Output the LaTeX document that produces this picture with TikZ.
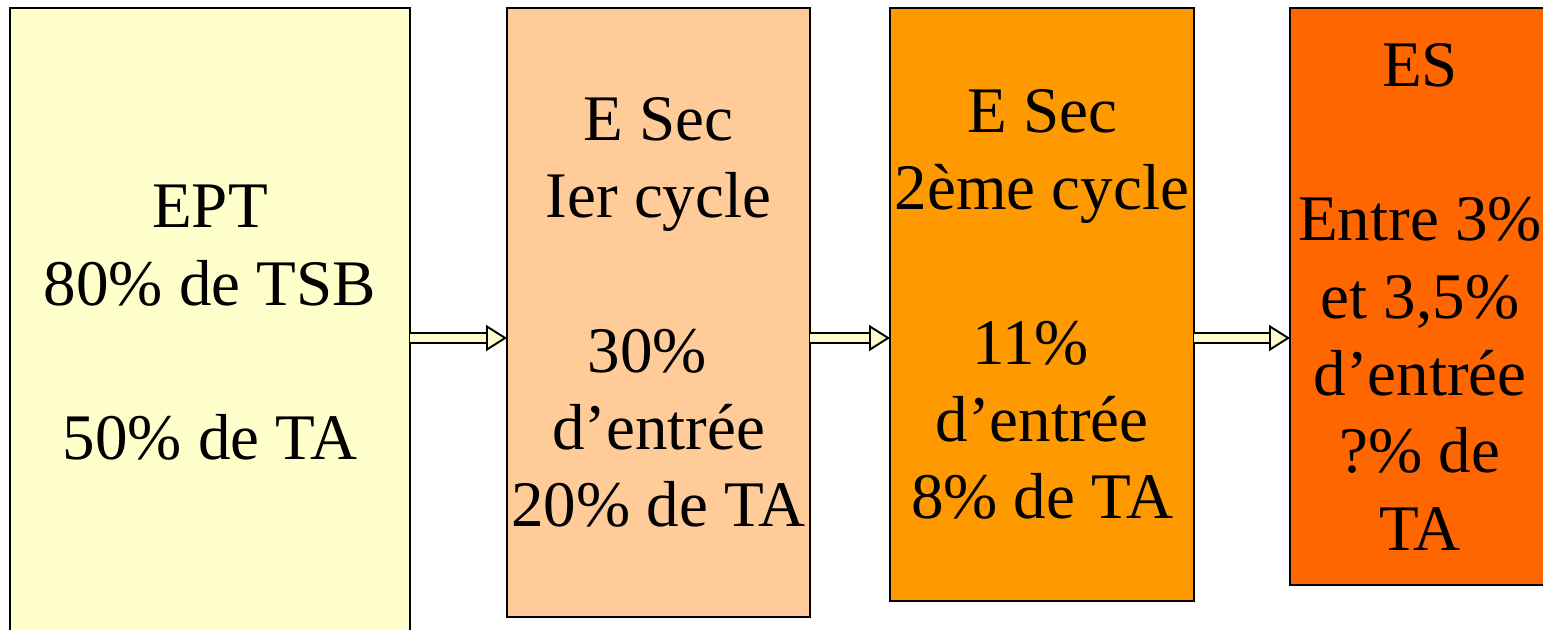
\documentclass[tikz,border=0pt]{standalone}
\usepackage{fontspec}
\setmainfont{Liberation Serif}
\usetikzlibrary{positioning, arrows.meta}
\definecolor{eptcol}{HTML}{FFFFCC}
\definecolor{secacol}{HTML}{FFCC99}
\definecolor{secbcol}{HTML}{FF9900}
\definecolor{escol}{HTML}{FF6600}
\tikzset{
level/.style={draw, line width=1.1pt, inner sep=0pt, outer sep=0pt, align=center, font=\fontsize{37}{44}\selectfont}, % one box per school level
fatarrow/.style={line width=1.1pt, double=eptcol, double distance=5pt, -{Triangle[length=0.42cm, width=0.52cm, fill=eptcol]}}, % hollow arrow between levels
}
\begin{document}
\begin{tikzpicture}
    \useasboundingbox (0,0) rectangle (30.86,-12.58);
    \coordinate (row) at (0,-6.76);

    \node[level, fill=eptcol, minimum width=8cm, minimum height=12.6cm, anchor=north west] (EPT) at (0.2,-0.16) {EPT\\80\% de TSB\\ \\50\% de TA};
    \node[level, fill=secacol, minimum width=6.06cm, minimum height=12.18cm, right=1.94cm of EPT.north east, anchor=north west] (SEC1) {E Sec\\Ier cycle\\ \\30\%\rule{0.35em}{0pt}\\d’entrée\\20\% de TA};
    \node[level, fill=secbcol, minimum width=6.08cm, minimum height=11.86cm, right=1.6cm of SEC1.north east, anchor=north west] (SEC2) {E Sec\\2ème cycle\\ \\11\%\rule{0.35em}{0pt}\\d’entrée\\8\% de TA};
    \node[level, fill=escol, minimum width=5.2cm, minimum height=11.54cm, right=1.92cm of SEC2.north east, anchor=north west] (ES) {ES\\ \\Entre 3\%\\et 3,5\%\\ d’entrée\\?\% de\\TA};

    \draw[fatarrow] (EPT.east |- row) -- (SEC1.west |- row);
    \draw[fatarrow] (SEC1.east |- row) -- (SEC2.west |- row);
    \draw[fatarrow] (SEC2.east |- row) -- (ES.west |- row);
\end{tikzpicture}
\end{document}
